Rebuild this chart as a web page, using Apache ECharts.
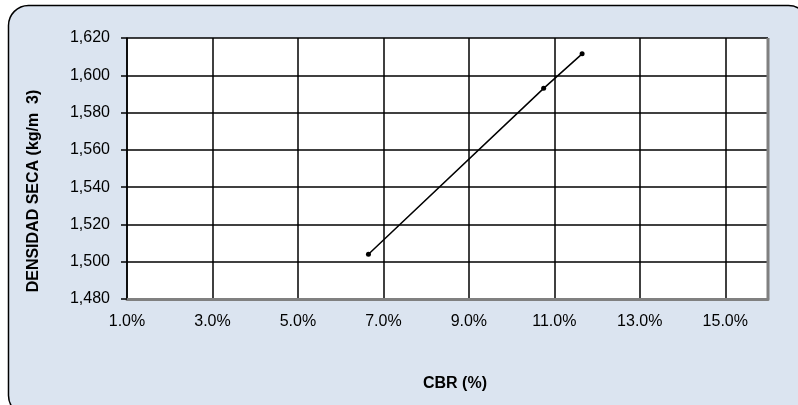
<!DOCTYPE html>
<html>
<head>
<meta charset="utf-8">
<script src="https://cdn.jsdelivr.net/npm/echarts@6/dist/echarts.min.js"></script>
<style>
  html, body { margin: 0; padding: 0; background: #ffffff; }
  #chart { width: 798px; height: 405px; }
</style>
</head>
<body>
<div id="chart"></div>
<script>
// CBR (%) versus dry density (kg/m3)
const cbrValues = [6.65, 10.75, 11.65];
const densityValues = [1504, 1593, 1611.5];
const xTitle = 'CBR (%)';
const yTitle = 'DENSIDAD SECA (kg/m  3)';

const points = cbrValues.map((c, i) => [c, densityValues[i]]);
const FONT = 'Arial, "Liberation Sans", sans-serif';

const chart = echarts.init(document.getElementById('chart'));
chart.setOption({
  animation: false,
  backgroundColor: '#ffffff',
  graphic: [
    {
      id: 'panel',
      type: 'rect',
      z: -10,
      shape: { x: 8.5, y: 5.5, width: 800, height: 410, r: 20 },
      style: { fill: '#dbe4f0', stroke: '#000000', lineWidth: 1.5 }
    },
    {
      id: 'xtitle',
      type: 'text',
      z: 10,
      x: 455,
      y: 384,
      style: {
        text: xTitle, fontSize: 16, fontWeight: 'bold', fontFamily: FONT,
        fill: '#000000', align: 'center', verticalAlign: 'middle'
      }
    },
    {
      id: 'ytitle',
      type: 'text',
      z: 10,
      rotation: Math.PI / 2,
      x: 34,
      y: 191,
      style: {
        text: yTitle, fontSize: 16, fontWeight: 'bold', fontFamily: FONT,
        fill: '#000000', align: 'center', verticalAlign: 'middle'
      }
    }
  ],
  grid: {
    left: 127,
    right: 30,
    top: 38,
    bottom: 106,
    show: true,
    backgroundColor: '#ffffff',
    borderWidth: 0
  },
  xAxis: {
    type: 'value',
    min: 1,
    max: 16,
    interval: 2,
    axisLine: { show: true, onZero: false, lineStyle: { color: '#808080', width: 3 } },
    axisTick: { show: false },
    splitLine: { show: true, lineStyle: { color: '#000000', width: 1.5 } },
    axisLabel: {
      showMaxLabel: false,
      margin: 15,
      color: '#000000',
      fontSize: 16,
      fontFamily: FONT,
      formatter: v => v.toFixed(1) + '%'
    }
  },
  yAxis: {
    type: 'value',
    min: 1480,
    max: 1620,
    interval: 20,
    axisLine: { show: true, onZero: false, lineStyle: { color: '#000000', width: 1.5 } },
    axisTick: { show: true, length: 6, lineStyle: { color: '#000000', width: 1.5 } },
    splitLine: { show: true, lineStyle: { color: '#000000', width: 1.5 } },
    axisLabel: {
      margin: 17,
      color: '#000000',
      fontSize: 16,
      fontFamily: FONT,
      formatter: v => v.toLocaleString('en-US')
    }
  },
  series: [{
    type: 'line',
    data: points,
    symbol: 'circle',
    symbolSize: 5,
    lineStyle: { color: '#000000', width: 1.5 },
    itemStyle: { color: '#000000' },
    z: 5
  }]
});

// gray right-hand edge of the plot area
const edgeX = chart.convertToPixel({ xAxisIndex: 0 }, 16);
const edgeTop = chart.convertToPixel({ yAxisIndex: 0 }, 1620);
const edgeBottom = chart.convertToPixel({ yAxisIndex: 0 }, 1480);
chart.setOption({
  graphic: [{
    id: 'rightEdge',
    type: 'line',
    z: 20,
    shape: { x1: edgeX, y1: edgeTop, x2: edgeX, y2: edgeBottom },
    style: { stroke: '#808080', lineWidth: 3 }
  }]
});
</script>
</body>
</html>
